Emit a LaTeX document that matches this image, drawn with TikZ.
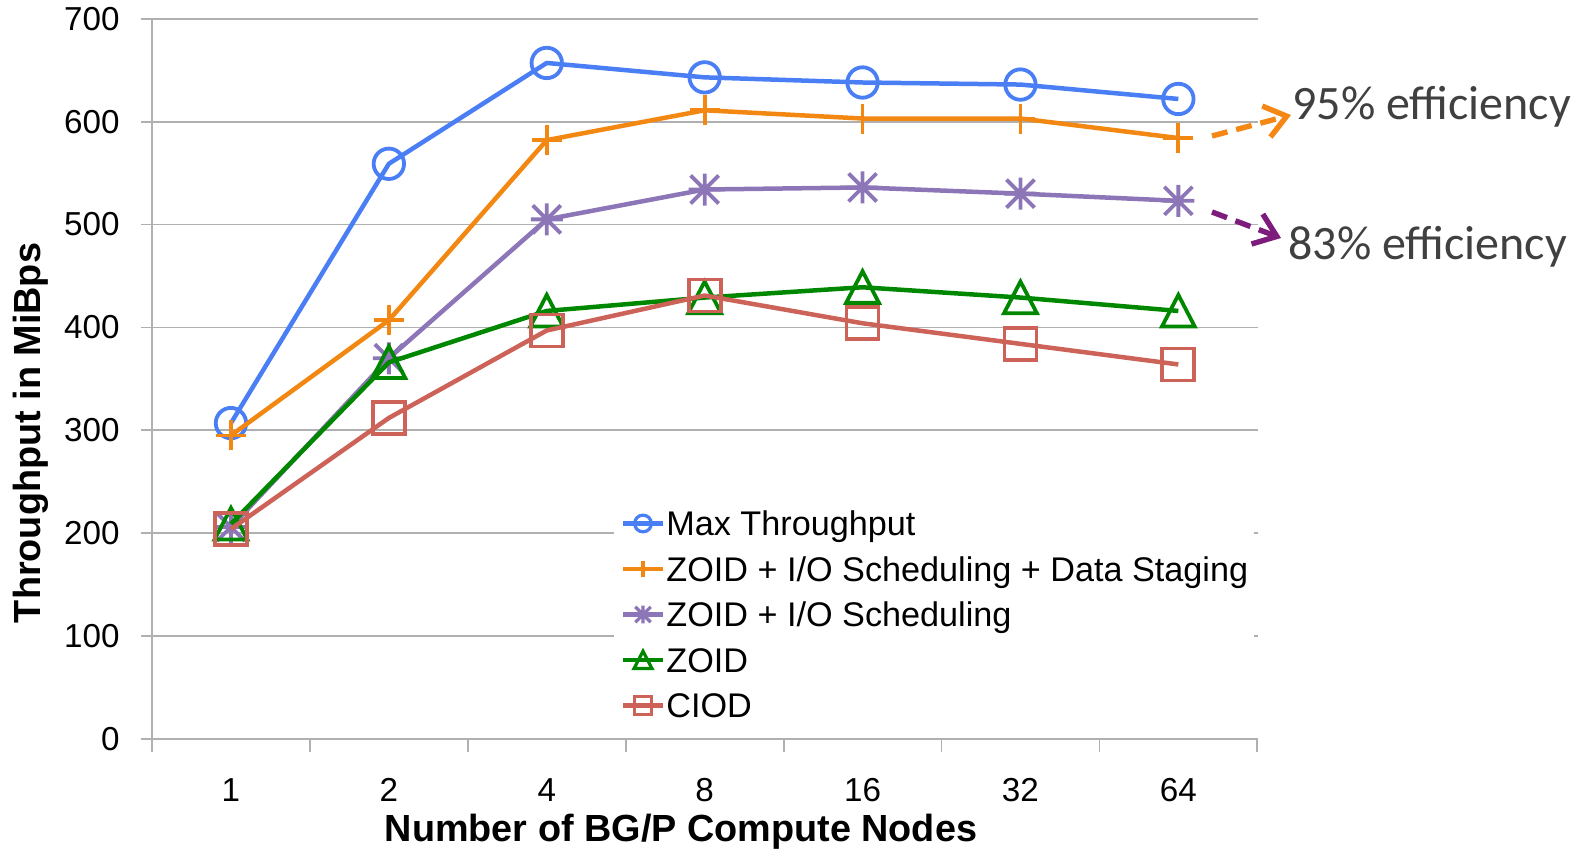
\documentclass[tikz,border=0pt]{standalone}
\usepackage{fontspec}
\setmainfont{Liberation Sans}
\newfontfamily\effont{Carlito}
\usetikzlibrary{arrows.meta,calc}

\definecolor{cblue}{RGB}{74,126,245}
\definecolor{corange}{RGB}{242,135,18}
\definecolor{cpurple}{RGB}{141,118,184}
\definecolor{cgreen}{RGB}{0,135,0}
\definecolor{cred}{RGB}{204,98,88}
\definecolor{cgrid}{RGB}{176,176,176}
\definecolor{ceff}{RGB}{64,64,64}
\definecolor{carrowo}{RGB}{245,135,20}
\definecolor{carrowp}{RGB}{125,28,125}

% series: name, colour, marker, seven values
\newcommand\plotseries[4]{%
  \foreach \v [count=\i] in {#4} {
    \coordinate (#1\i) at ({152+(\i-0.5)*157.9},{739-\v*1.029});
  }
  \draw[serline,#2] (#11) -- (#12) -- (#13) -- (#14) -- (#15) -- (#16) -- (#17);
  \foreach \i in {1,...,7} {\pic[color=#2,markline] at (#1\i) {#3};}
}

\begin{document}
\begin{tikzpicture}[x=0.5pt,y=-0.5pt,
  gridline/.style={draw=cgrid,line width=0.9pt},
  serline/.style={line width=2.25pt,line join=round},
  markline/.style={line width=1.9pt},
  ticklbl/.style={font=\fontsize{16.6}{18}\selectfont,inner sep=0pt},
  axtitle/.style={font=\fontsize{18.9}{20}\selectfont\bfseries,inner sep=0pt},
  legtext/.style={font=\fontsize{17.1}{19}\selectfont,inner sep=0pt,anchor=base west},
  efftext/.style={font=\fontsize{24}{26}\selectfont\effont,text=ceff,inner sep=0pt,anchor=west},
  effarrow/.style={line width=2.7pt,dash pattern=on 8pt off 4.5pt,
    -{Straight Barb[length=10.5pt,width=16pt,line width=2.7pt]}},
  mcirc/.pic={\draw (0,0) circle[radius=7.6pt];},
  mplus/.pic={\draw (-7.5pt,0) -- (7.5pt,0) (0,-7.5pt) -- (0,7.5pt);},
  mstar/.pic={\draw (-8pt,0) -- (8pt,0) (0,-8pt) -- (0,8pt)
      (-7pt,-7pt) -- (7pt,7pt) (-7pt,7pt) -- (7pt,-7pt);},
  mtri/.pic={\draw[line join=miter] (-8.2pt,-7.8pt) -- (8.2pt,-7.8pt) -- (0,8pt) -- cycle;},
  msq/.pic={\draw (-8pt,-8pt) rectangle (8pt,8pt);}
]
\useasboundingbox (0,0) rectangle (1587,852);

% horizontal grid, y ticks and labels
\foreach \lab [count=\k from 0] in {0,100,...,700} {
  \draw[gridline] (141,{739-\k*102.9}) -- (1258,{739-\k*102.9});
  \node[ticklbl,anchor=east] (yt\k) at (120,{739-\k*102.9}) {\lab};
}
% y axis and x ticks
\draw[gridline] (152,18.7) -- (152,739);
\foreach \k in {0,...,7} {\draw[gridline] ({152+\k*157.9},739) -- ++(0,13);}
\foreach \lab [count=\i] in {1,2,4,8,16,32,64} {
  \node[ticklbl] (xt\i) at ({152+(\i-0.5)*157.9},790) {\lab};
}

% axis titles
\node[axtitle] (xtitle) at (681,832) {Number of BG/P Compute Nodes};
\node[axtitle,rotate=90] (ytitle) at (31,433) {Throughput in MiBps};

% legend background
\node[fill=white,inner sep=0pt,minimum width=320pt,minimum height=108pt,anchor=north west] (legend) at (614,504) {};

% data series
\plotseries{b}{cblue}{mcirc}{307,559,657,643,638,636,622}
\plotseries{o}{corange}{mplus}{295,407,582,611,603,603,584}
\plotseries{p}{cpurple}{mstar}{206,370,505,534,536,530,523}
\plotseries{g}{cgreen}{mtri}{209,366,416,429,439,429,416}
\plotseries{r}{cred}{msq}{204,312,397,431,404,384,364}

% legend entries
\foreach \nm/\col/\mk/\txt [count=\j] in {%
  lb/cblue/mcirc/{Max Throughput},
  lo/corange/mplus/{ZOID + I/O Scheduling + Data Staging},
  lp/cpurple/mstar/{ZOID + I/O Scheduling},
  lg/cgreen/mtri/{ZOID},
  lr/cred/msq/{CIOD}} {
  \coordinate (\nm a) at (623,{523.5+(\j-1)*45.5});
  \coordinate (\nm b) at (663,{523.5+(\j-1)*45.5});
  \draw[serline,\col] (\nm a) -- (\nm b);
  \pic[color=\col,markline,line width=1.6pt,scale=0.55] at ($(\nm a)!0.5!(\nm b)$) {\mk};
  \node[legtext] (\nm t) at (666,{535.5+(\j-1)*45.5}) {\txt};
}

% efficiency annotations
\node[efftext] (e95) at (1292,107) {95\% efficiency};
\node[efftext] (e83) at (1288,247) {83\% efficiency};
\coordinate (otail) at (1212,136);
\coordinate (ohead) at (1291,115);
\coordinate (ptail) at (1212,212);
\coordinate (phead) at (1281,238);
\draw[effarrow,carrowo] (otail) -- (ohead);
\draw[effarrow,carrowp] (ptail) -- (phead);
\end{tikzpicture}
\end{document}
